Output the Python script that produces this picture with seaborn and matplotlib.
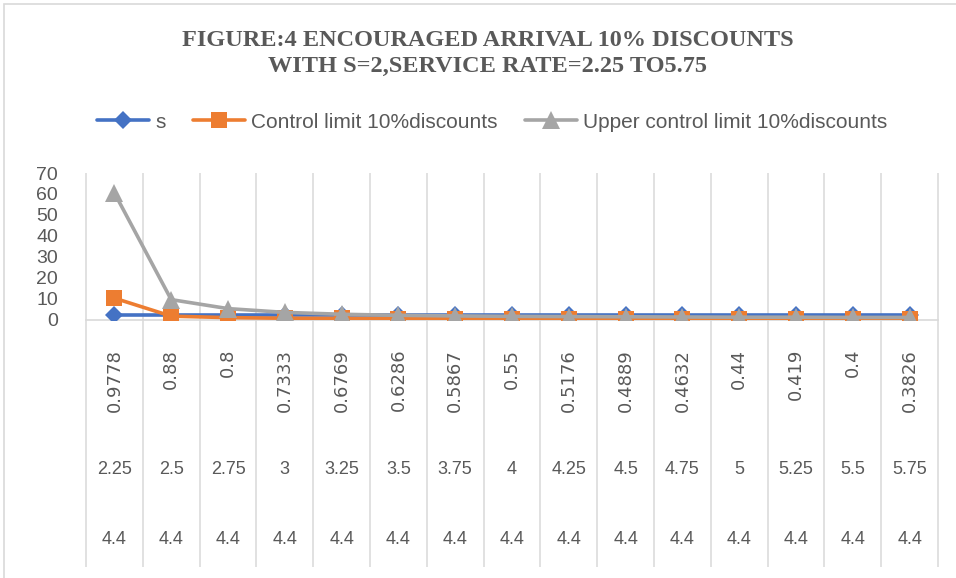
import pandas as pd
import matplotlib.pyplot as plt
import seaborn as sns
from matplotlib.colors import to_hex
from matplotlib.lines import Line2D
from matplotlib.patches import Rectangle

# chart values
utilisation = ["0.9778", "0.88", "0.8", "0.7333", "0.6769", "0.6286", "0.5867", "0.55",
               "0.5176", "0.4889", "0.4632", "0.44", "0.419", "0.4", "0.3826"]
service_rate = ["2.25", "2.5", "2.75", "3", "3.25", "3.5", "3.75", "4",
                "4.25", "4.5", "4.75", "5", "5.25", "5.5", "5.75"]
arrival_rate = ["4.4"] * 15

s_values = [2] * 15
control_limit = [10.2, 1.6, 0.9, 0.6, 0.5, 0.45, 0.4, 0.35, 0.3, 0.3, 0.3, 0.25, 0.25, 0.25, 0.2]
upper_limit = [60.5, 9.5, 5.2, 3.4, 2.5, 2.0, 1.7, 1.5, 1.4, 1.3, 1.2, 1.1, 1.1, 1.0, 1.0]

series_names = ["s", "Control limit 10%discounts", "Upper control limit 10%discounts"]
colors = ["#4472C4", "#ED7D31", "#A5A5A5"]
marker_map = {"s": "D", "Control limit 10%discounts": "s", "Upper control limit 10%discounts": "^"}
marker_size = {"s": 9.5, "Control limit 10%discounts": 12, "Upper control limit 10%discounts": 13}

rows = []
for name, vals in zip(series_names, [s_values, control_limit, upper_limit]):
    for i, v in enumerate(vals):
        rows.append({"idx": i, "value": v, "series": name})
df = pd.DataFrame(rows)

sns.set_style("white")
text_col = "#595959"
grid_col = "#D9D9D9"

fig = plt.figure(figsize=(9.56, 5.78), dpi=100)
ax = fig.add_axes([86 / 956, 1 - 319.5 / 578, (938 - 86) / 956, (319.5 - 173) / 578])

sns.lineplot(data=df, x="idx", y="value", hue="series", style="series",
             palette=dict(zip(series_names, colors)), markers=marker_map, dashes=False,
             linewidth=2.6, markersize=11, markeredgewidth=0, legend=False, ax=ax)
# seaborn draws levels in reverse, so match lines by colour; later series on top like Excel
for line in ax.lines:
    c = to_hex(line.get_color()).upper()
    k = [x.upper() for x in colors].index(c)
    line.set_markersize(marker_size[series_names[k]])
    line.set_zorder(3 + k)

n = len(service_rate)
ax.set_xlim(-0.5, n - 0.5)
ax.set_ylim(0, 70)
ax.set_yticks(range(0, 71, 10))
ax.set_xticks([])
ax.set_xlabel("")
ax.set_ylabel("")
ax.tick_params(axis="y", length=0, pad=20, labelsize=14, labelcolor=text_col)
for lab in ax.get_yticklabels():
    lab.set_fontfamily("Liberation Sans")
for side in ["left", "right", "top"]:
    ax.spines[side].set_visible(False)
ax.spines["bottom"].set_color(grid_col)
ax.spines["bottom"].set_linewidth(1.2)

# category separators running through the multi-level labels
xt = ax.get_xaxis_transform()
ax.vlines([i - 0.5 for i in range(n + 1)], -1.69, 1, transform=xt, colors=grid_col,
          linewidth=1.1, clip_on=False, zorder=0)

for i in range(n):
    ax.text(i, -0.2, utilisation[i], transform=xt, rotation=90, ha="center", va="top",
            fontsize=13, color=text_col, family="DejaVu Sans")
    ax.text(i, -1.027, service_rate[i], transform=xt, ha="center", va="center",
            fontsize=13, color=text_col, family="Liberation Sans")
    ax.text(i, -1.505, arrival_rate[i], transform=xt, ha="center", va="center",
            fontsize=13, color=text_col, family="Liberation Sans")

fig.text(0.51, 1 - 41 / 578, "FIGURE:4 ENCOURAGED ARRIVAL 10% DISCOUNTS", ha="center", va="center",
         fontsize=17.5, fontweight="bold", color=text_col, family="Liberation Serif")
fig.text(0.51, 1 - 66 / 578, "WITH S=2,SERVICE RATE=2.25 TO5.75", ha="center", va="center",
         fontsize=17.5, fontweight="bold", color=text_col, family="Liberation Serif")

handles = [Line2D([0], [0], color=c, linewidth=2.6, marker=marker_map[nm], markersize=marker_size[nm],
                  markeredgewidth=0) for nm, c in zip(series_names, colors)]
fig.legend(handles, series_names, loc="center", bbox_to_anchor=(0.515, 1 - 122 / 578), ncol=3,
           frameon=False, handlelength=2.5, handletextpad=0.3, columnspacing=1.3,
           prop={"family": "Liberation Sans", "size": 15}, labelcolor=text_col)

fig.patches.append(Rectangle((4 / 956, -0.05), 1.2, 1.05 - 4 / 578, transform=fig.transFigure,
                             fill=False, edgecolor=grid_col, linewidth=1.2))

fig.savefig("out.png", dpi=100)
